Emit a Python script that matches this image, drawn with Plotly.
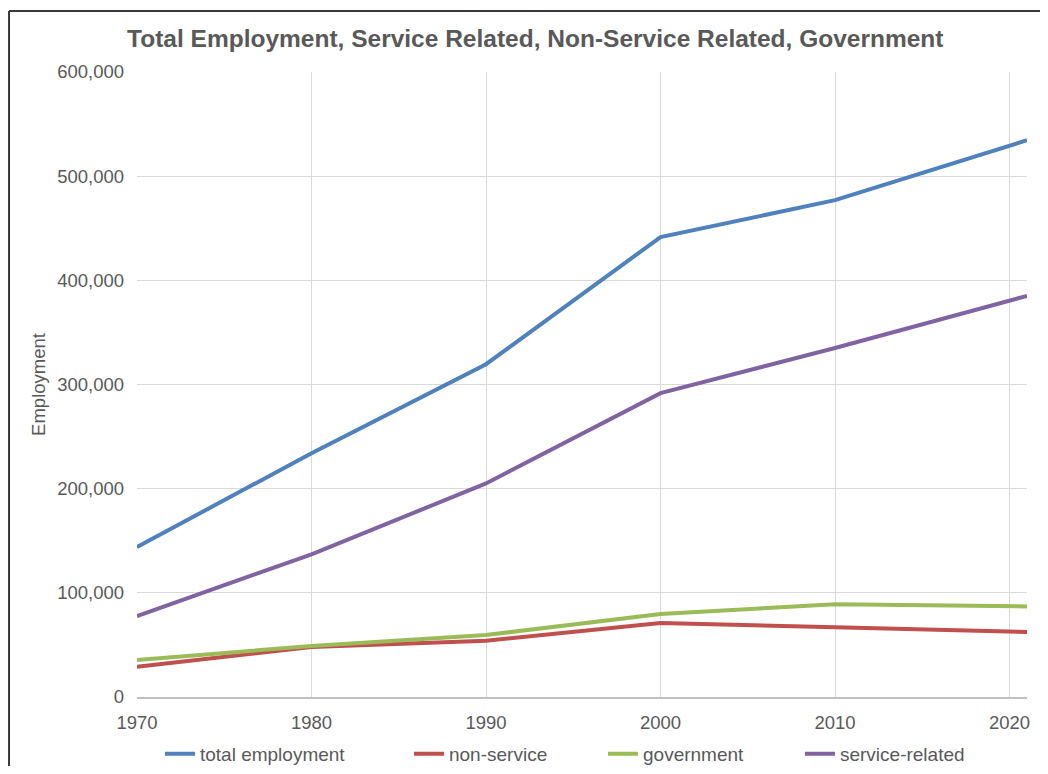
import plotly.graph_objects as go

years = [1970, 1980, 1990, 2000, 2010, 2021]
total_employment = [144000, 234000, 319500, 441500, 477000, 534500]
non_service = [29000, 48000, 54000, 71000, 67000, 62500]
government = [35500, 49000, 59500, 79700, 89000, 87000]
service_related = [77700, 137000, 205000, 291700, 335000, 385000]

series = [
    ("total employment", total_employment, "#4f81bd"),
    ("non-service", non_service, "#c0504d"),
    ("government", government, "#9bbb59"),
    ("service-related", service_related, "#8064a2"),
]
legend_ids = ["legend", "legend2", "legend3", "legend4"]
legend_x = [0.0258, 0.3056, 0.5236, 0.7449]

font_color = "#595959"

fig = go.Figure()
for (name, vals, color), lid in zip(series, legend_ids):
    fig.add_trace(go.Scatter(x=years, y=vals, name=name, mode="lines",
                             legend=lid,
                             line=dict(color=color, width=4)))

legend_layouts = {}
for lid, lx in zip(legend_ids, legend_x):
    legend_layouts[lid] = dict(orientation="h", x=lx, xanchor="left",
                               yref="container", y=0.016, yanchor="middle",
                               font=dict(size=19, color=font_color), itemwidth=30,
                               bgcolor="rgba(0,0,0,0)")

border = dict(color="#3a3a3a", width=2)
fig.update_layout(
    width=1040, height=758,
    paper_bgcolor="white", plot_bgcolor="white",
    margin=dict(l=129, r=21, t=64, b=69, autoexpand=False),
    font=dict(family="Liberation Sans, Arial, sans-serif", color=font_color, size=18),
    title=dict(text="<b>Total Employment, Service Related, Non-Service Related, Government</b>",
               x=0.507, xanchor="center", y=0.9604, yanchor="middle",
               font=dict(size=24.5, color=font_color)),
    xaxis=dict(range=[1970, 2021], tickvals=[1970, 1980, 1990, 2000, 2010, 2020],
               showgrid=True, gridcolor="#d9d9d9", gridwidth=1,
               showline=True, linecolor="#bfbfbf", linewidth=1.5,
               zeroline=False, ticks="", ticklen=0, ticklabelstandoff=8,
               tickfont=dict(size=18.5, color=font_color)),
    yaxis=dict(range=[0, 600000], dtick=100000, tickformat=",",
               showgrid=True, gridcolor="#d9d9d9", gridwidth=1,
               zeroline=False, showline=False, ticklabelstandoff=12,
               title=dict(text="Employment", font=dict(size=18.5, color=font_color), standoff=6),
               tickfont=dict(size=18.5, color=font_color)),
    showlegend=True,
    shapes=[
        dict(type="line", xref="paper", yref="paper",
             x0=-0.1438, x1=1.03, y0=1.0976, y1=1.0976, line=border, layer="above"),
        dict(type="line", xref="paper", yref="paper",
             x0=-0.1438, x1=-0.1438, y0=-0.2, y1=1.0976, line=border, layer="above"),
    ],
    **legend_layouts,
)

fig.write_html("out.html")
